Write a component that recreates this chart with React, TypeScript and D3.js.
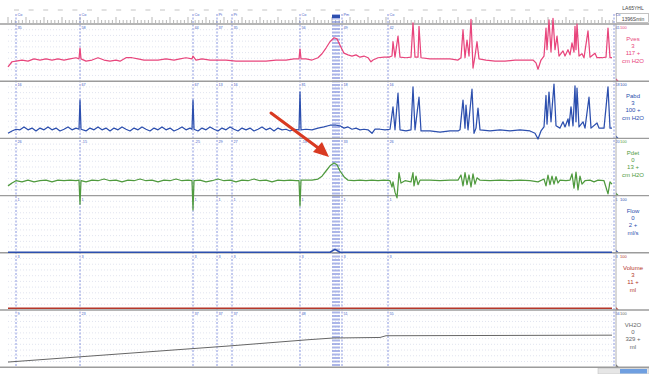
import { useEffect } from "react";
import * as d3 from "d3";

// time in s (0..604), values in % of each channel's full scale
const pves: [number, number][] = [
  [0,25],[4,34],[8,35],[14,37],[20,35],[26,39],[32,37],[38,39],[44,37],[50,39],[56,37],[62,39],[68,41],[71,39],[72,58],[73,39],[78,35],[84,37],[90,41],[96,37],[102,35],[108,37],[112,35],[118,41],[124,41],[130,39],[136,37],[142,37],[150,37],[158,39],[166,37],[172,39],[178,41],[184,39],[185,44],[188,37],[194,39],[202,37],[210,37],[218,37],[228,35],[238,35],[248,35],[258,35],[268,37],[278,37],[286,39],[291,39],[292,56],[293,39],[298,39],[304,37],[310,41],[314,48],[318,58],[322,69],[326,76],[329,74],[332,63],[336,49],[340,46],[344,44],[348,46],[352,42],[356,44],[360,41],[363,34],[365,37],[370,41],[376,42],[381,42],[384,44],[385,69],[387,42],[390,79],[392,42],[398,41],[403,42],[405,102],[407,42],[410,42],[411,96],[413,41],[422,39],[432,39],[442,39],[450,37],[453,41],[455,90],[457,41],[459,72],[461,44],[463,108],[465,23],[467,44],[469,69],[471,39],[478,37],[487,35],[497,35],[507,37],[517,37],[525,37],[528,32],[530,21],[533,37],[536,44],[538,93],[539,55],[541,107],[543,51],[545,110],[547,55],[549,79],[551,44],[555,53],[557,44],[560,55],[562,46],[564,67],[566,51],[567,96],[568,55],[569,100],[571,44],[574,48],[576,41],[580,88],[582,42],[587,49],[589,41],[594,41],[598,42],[600,93],[602,41],[604,41],
];

const pabd: [number, number][] = [
  [0,9],[4,13],[8,16],[12,15],[16,20],[20,15],[24,18],[28,13],[32,18],[36,15],[40,20],[44,15],[48,18],[52,13],[56,16],[60,20],[64,15],[68,18],[71,16],[72,67],[73,16],[78,13],[82,18],[86,15],[90,20],[94,15],[98,18],[102,13],[106,18],[110,15],[114,20],[118,16],[122,13],[126,18],[130,15],[134,20],[138,16],[142,13],[146,18],[150,15],[154,20],[158,15],[162,18],[166,13],[170,16],[174,20],[178,15],[182,18],[184,16],[185,67],[186,16],[190,13],[194,18],[198,15],[202,20],[206,16],[210,13],[214,18],[218,15],[222,20],[226,16],[230,13],[234,18],[238,15],[242,18],[246,13],[250,16],[254,20],[258,15],[262,18],[266,13],[270,18],[274,15],[278,16],[282,13],[286,16],[291,15],[292,81],[293,15],[298,16],[304,15],[310,18],[316,20],[322,23],[328,23],[332,22],[336,18],[340,20],[344,16],[348,18],[352,15],[356,16],[360,15],[364,9],[367,16],[372,16],[377,15],[382,16],[385,55],[387,15],[390,79],[392,15],[398,13],[403,15],[405,90],[407,15],[411,72],[413,13],[422,13],[432,11],[442,13],[450,13],[452,15],[455,67],[457,18],[458,58],[460,15],[464,86],[466,9],[468,18],[470,53],[472,15],[482,13],[492,15],[502,13],[512,15],[522,13],[527,9],[530,-1],[533,13],[536,20],[538,75],[539,25],[541,81],[543,29],[546,95],[548,22],[552,18],[555,29],[557,20],[560,34],[561,22],[563,55],[565,22],[567,92],[568,29],[569,88],[571,20],[575,29],[577,18],[581,72],[583,18],[589,27],[591,18],[596,18],[600,90],[602,18],[604,18],
];

const pdet: [number, number][] = [
  [0,17],[4,22],[8,26],[14,24],[20,27],[26,24],[32,26],[38,27],[44,24],[50,27],[56,26],[62,27],[68,26],[71,27],[72,-15],[73,26],[78,24],[84,27],[90,26],[96,29],[102,26],[108,27],[114,24],[120,27],[126,26],[132,29],[138,26],[144,27],[150,24],[156,27],[162,26],[168,29],[174,26],[180,27],[184,26],[185,-25],[186,26],[192,27],[198,24],[204,26],[210,29],[216,26],[222,27],[228,24],[234,27],[240,26],[246,29],[252,26],[258,27],[264,24],[270,27],[276,26],[282,27],[288,26],[291,26],[292,-18],[293,27],[298,27],[304,27],[310,29],[314,34],[318,43],[322,52],[326,57],[329,54],[332,43],[336,33],[340,27],[346,26],[352,27],[358,26],[364,27],[370,26],[376,27],[382,26],[384,15],[385,24],[387,6],[389,-4],[391,40],[393,22],[397,26],[403,24],[405,40],[406,17],[408,34],[410,19],[412,27],[422,27],[432,26],[442,27],[450,27],[453,36],[455,17],[457,40],[459,19],[461,36],[463,15],[465,38],[467,20],[469,31],[472,27],[482,26],[492,27],[502,26],[512,27],[522,26],[530,24],[536,29],[538,17],[540,36],[542,19],[544,34],[546,20],[548,33],[550,22],[552,27],[558,26],[562,27],[564,38],[566,13],[568,41],[570,10],[572,34],[574,20],[577,26],[582,27],[586,24],[590,27],[596,26],[600,3],[602,24],[604,20],
];

const flow: [number, number][] = [[0,1],[322,1],[327,6],[332,1],[604,1]];
const volume: [number, number][] = [[0,3],[604,3]];
const vh2o: [number, number][] = [[0,9],[110,23],[220,37],[300,48],[325,51],[372,52],[378,55],[604,56]];

const channelNames = ["Pves", "Pabd", "Pdet", "Flow", "Volume", "VH2O"];
const channelZero = ["3", "3", "0", "0", "3", "0"];
const channelCurrent = ["117 +", "100 +", "13 +", "2 +", "11 +", "329 +"];
const channelUnits = ["cm H2O", "cm H2O", "cm H2O", "ml/s", "ml", "ml"];
const channelColors = ["#e8457c", "#2c4fae", "#4f9a3e", "#2c4fae", "#b5372a", "#666666"];
const channelData = [pves, pabd, pdet, flow, volume, vh2o];

const markerTimes = [8, 72, 185, 209, 224, 292, 325, 327, 329, 331, 334, 380, 606];
const markerCodes = ["Co", "Co", "Co", "Pt", "Pt", "Co", "FD", "ND", "SD", "UD", "Pm", "Co", "Co"];

const W = 649;
const H = 374;
const top0 = 24;
const panelH = 57.2;

function valueAt(data: [number, number][], t: number) {
  const i = d3.bisector((d: [number, number]) => d[0]).center(data, t);
  return Math.round(data[i][1]);
}

export default function App() {
  useEffect(() => {
    document.body.style.margin = "0";
  }, []);

  const x = d3.scaleLinear().domain([0, 604]).range([8, 612]);
  const minorTicks = d3.range(0, 605, 3.6);
  const rulerDashes = d3.range(6, 600, 14.6);
  const yScale = (ci: number) => {
    const top = top0 + ci * panelH;
    return d3.scaleLinear().domain([0, 100]).range([top + panelH, top]);
  };

  return (
    <svg width={W} height={H} style={{ display: "block", fontFamily: "Arial, 'Liberation Sans', sans-serif" }}>
      <rect width={W} height={H} fill="#fff" />

      {/* ruler */}
      {rulerDashes.map((t, i) => (
        <line key={"rd" + i} x1={x(t)} x2={x(t) + 5} y1={10} y2={10} stroke="#c4c4c4" strokeWidth={1} />
      ))}
      {minorTicks.map((t, i) => (
        <line key={"mt" + i} x1={x(t)} x2={x(t)} y1={i % 5 === 0 ? 17 : 20} y2={23} stroke="#888" strokeWidth={0.6} />
      ))}
      <text x={633} y={10} fontSize={5} textAnchor="middle" fill="#444">LA65YHL</text>
      <rect x={616.5} y={13.5} width={32} height={9} fill="none" stroke="#999" strokeWidth={0.6} />
      <text x={633} y={20.5} fontSize={5} textAnchor="middle" fill="#444">1396Smin</text>

      {/* panels: grid and labels */}
      {channelData.map((data, ci) => {
        const top = top0 + ci * panelH;
        const color = channelColors[ci];
        return (
          <g key={"p" + ci}>
            {d3.range(1, 10).map((k) => (
              <line key={k} x1={8} x2={612} y1={top + (k * panelH) / 10} y2={top + (k * panelH) / 10}
                stroke="#cdd1e4" strokeWidth={0.6} strokeDasharray="1,2" />
            ))}
            {markerTimes.map((t, mi) => (
              mi >= 6 && mi <= 9 ? null :
              <text key={"ml" + mi} x={x(t) + 1.5} y={top + 5} fontSize={3.8} fill="#4a5fc8">{valueAt(data, t)}</text>
            ))}
            <text x={620} y={top + 5} fontSize={4} fill={color}>100</text>
            <path d={`M${616},${top + panelH - 3}l3,3h-3z`} fill={color} />
            {[channelNames[ci], channelZero[ci], channelCurrent[ci], channelUnits[ci]].map((s, li) => (
              <text key={"lab" + li} x={633} y={top + [17, 24, 31, 39][li]} fontSize={6} textAnchor="middle" fill={color}>{s}</text>
            ))}
          </g>
        );
      })}

      {/* event markers */}
      {markerTimes.map((t, i) => (
        <g key={"m" + i}>
          <line x1={x(t)} x2={x(t)} y1={14} y2={367} stroke="#6a7bd6" strokeWidth={i >= 6 && i <= 9 ? 1.1 : 0.8} strokeDasharray="2,1.5" />
          {i < 6 || i > 9 ? <text x={x(t) + 1.5} y={16} fontSize={3.8} fill="#4a5fc8">{markerCodes[i]}</text> : null}
        </g>
      ))}
      <rect x={x(325) - 1} y={15} width={x(331) - x(325) + 2} height={3} fill="#2c4fae" />

      {/* separators */}
      {d3.range(0, 7).map((k) => (
        <line key={"s" + k} x1={0} x2={W} y1={top0 + k * panelH} y2={top0 + k * panelH} stroke="#9c9c9c" strokeWidth={1.4} />
      ))}
      <line x1={616} x2={616} y1={top0} y2={367} stroke="#9c9c9c" strokeWidth={0.8} />

      {/* traces */}
      {channelData.map((data, ci) => {
        const y = yScale(ci);
        const line = d3.line<[number, number]>().x((d) => x(d[0])).y((d) => y(d[1]));
        return (
          <path key={"tr" + ci} d={line(data) ?? ""} fill="none" stroke={channelColors[ci]}
            strokeWidth={ci === 5 ? 1 : ci >= 3 ? 1.6 : 1.25} strokeLinejoin="round" />
        );
      })}

      {/* arrow */}
      <line x1={271} y1={113} x2={321} y2={150} stroke="#d93a22" strokeWidth={3} strokeLinecap="round" />
      <path d="M329,157 L313,152 L322,142 Z" fill="#d93a22" />

      {/* scroll bar */}
      <rect x={598} y={368.5} width={51} height={5.5} fill="#e6e6e6" stroke="#bbb" strokeWidth={0.5} />
      <rect x={620} y={369} width={27} height={4.5} fill="#6f9fe0" />
    </svg>
  );
}
